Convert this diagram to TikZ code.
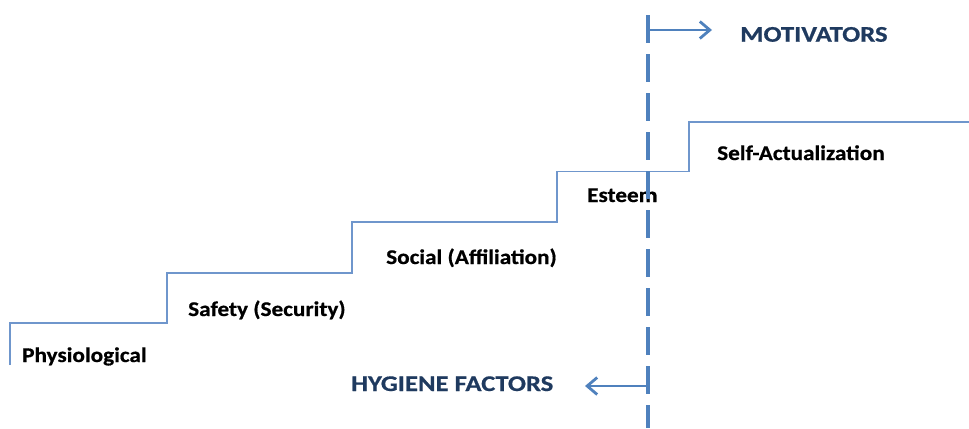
\documentclass[tikz,border=0pt]{standalone}
\usepackage{fontspec}
\setmainfont{Carlito}[BoldFeatures={FakeBold=0.6}]
\usetikzlibrary{arrows.meta}
\definecolor{officeblue}{HTML}{4F81BD}
\definecolor{stepblue}{HTML}{6F96CC}
\definecolor{navytext}{HTML}{1F3A5F}
\newcommand{\lvltext}[1]{\scalebox{1.11}[1]{#1}}
\newcommand{\sidetext}[1]{\scalebox{1.19}[1]{#1}}
\tikzset{
  lvl/.style={font=\bfseries\fontsize{21}{24}\selectfont, text=black, inner sep=0pt, anchor=base west},
  side/.style={font=\bfseries\fontsize{22.5}{26}\selectfont, text=navytext, inner sep=0pt, anchor=base west},
  divider/.style={draw=officeblue, line width=3.6bp, dash pattern=on 28bp off 11bp},
  pointer/.style={draw=officeblue, line width=2.8bp, -{Straight Barb[length=10bp,width=17bp,line width=2.8bp]}},
}
\begin{document}
\begin{tikzpicture}[x=1bp,y=-1bp]
  \useasboundingbox (0,0) rectangle (969,428);
  % staircase outline
  \draw[stepblue, line width=1.3bp]
    (10,365) -- (10,323) -- (167,323) -- (167,273) -- (352,273) -- (352,222)
    -- (557,222) -- (557,171.5) -- (689,171.5) -- (689,122) -- (969,122);
  % level labels
  \node[lvl] (phys) at (22,362) {\lvltext{Physiological}};
  \node[lvl] (safe) at (188,316) {\lvltext{Safety (Security)}};
  \node[lvl] (soc) at (386,264) {\lvltext{Social (Affiliation)}};
  \node[lvl] (est) at (587,202) {\lvltext{Esteem}};
  \node[lvl] (self) at (717,160) {\lvltext{Self-Actualization}};
  % dividing line
  \coordinate (top) at (648,15);
  \coordinate (bot) at (648,428);
  \draw[divider] (top) -- (bot);
  % direction arrows
  \coordinate (mstart) at (648,30);
  \coordinate (mend) at (712,30);
  \coordinate (hstart) at (648,386);
  \coordinate (hend) at (585,386);
  \draw[pointer] (mstart) -- (mend);
  \draw[pointer] (hstart) -- (hend);
  \node[side] (mot) at (740,41.7) {\sidetext{MOTIVATORS}};
  \node[side] (hyg) at (351,391) {\sidetext{HYGIENE FACTORS}};
\end{tikzpicture}
\end{document}
